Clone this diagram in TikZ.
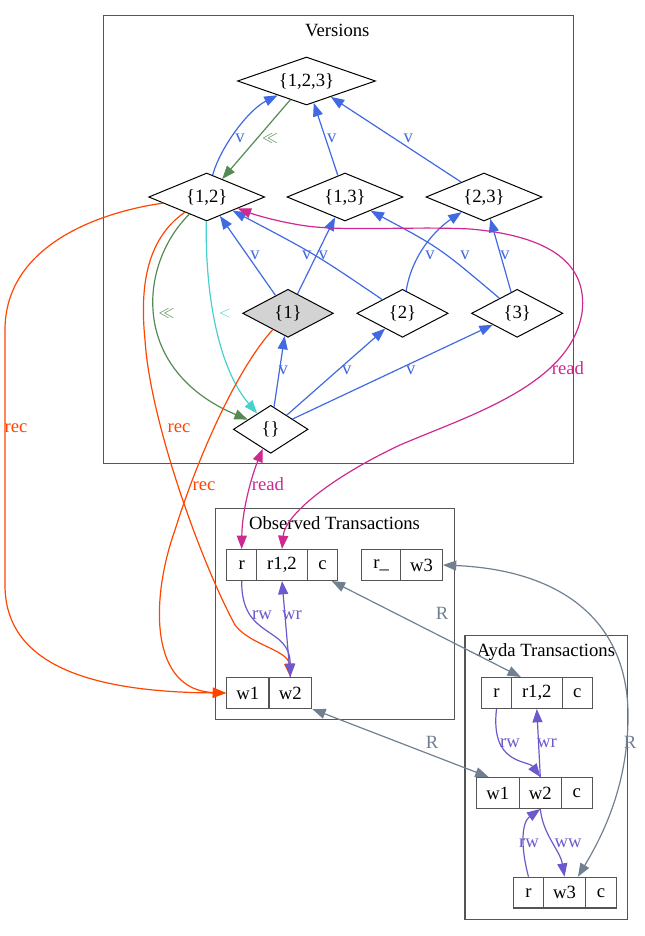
\documentclass[tikz,border=0pt]{standalone}
\usepackage{fontspec}
\setmainfont{Liberation Serif}
\usetikzlibrary{shapes.geometric,arrows.meta}
\definecolor{vblue}{HTML}{4169E1}
\definecolor{vgreen}{HTML}{548B54}
\definecolor{vturq}{HTML}{48D1CC}
\definecolor{vmag}{HTML}{CD2990}
\definecolor{vorange}{HTML}{FF4500}
\definecolor{vslate}{HTML}{6A5ACD}
\definecolor{vgray}{HTML}{708090}
\definecolor{boxgray}{HTML}{555555}
\definecolor{nodegray}{HTML}{D3D3D3}
\begin{document}
\begin{tikzpicture}[x=0.75pt,y=-0.75pt,font=\fontsize{14}{16}\selectfont,
  ver/.style={shape=diamond,draw=black,line width=0.75pt,inner sep=0pt,aspect=3,minimum height=36pt},
  fld/.style={draw=boxgray,line width=1pt,inner sep=0pt,minimum height=23pt},
  clus/.style={draw=boxgray,line width=1pt},
  ttl/.style={inner sep=0pt,anchor=base},
  edgeline/.style={line width=0.9pt},
  onehead/.style={-{Triangle[length=10pt,width=7.5pt]}},
  twoheads/.style={{Triangle[length=10pt,width=7.5pt]}-{Triangle[length=10pt,width=7.5pt]}},
  lbl/.style={inner sep=0pt},
  smallsym/.style={inner sep=0pt,font=\fontsize{12}{14}\selectfont}]
\useasboundingbox (0,0) rectangle (644,936);
% clusters
\draw[clus] (103.3,15.7) rectangle (573.3,463.3);
\draw[clus] (215.7,508.3) rectangle (454.7,719.3);
\draw[clus] (465,635.7) rectangle (627.7,919.3);
\node[ttl] (tV) at (337.3,36) {Versions};
\node[ttl] (tO) at (334.5,529) {Observed Transactions};
\node[ttl] (tA) at (546,656) {Ayda Transactions};
% version nodes
\node[ver,minimum width=103.5pt] (v123) at (306.5,81) {\{1,2,3\}};
\node[ver,minimum width=87pt] (v12) at (206.7,197) {\{1,2\}};
\node[ver,minimum width=87pt] (v13) at (345,197) {\{1,3\}};
\node[ver,minimum width=87pt] (v23) at (484,197) {\{2,3\}};
\node[ver,minimum width=68pt,fill=nodegray] (v1) at (288,313.3) {\{1\}};
\node[ver,minimum width=68.5pt] (v2) at (402.5,313.3) {\{2\}};
\node[ver,minimum width=68.5pt] (v3) at (517.2,313.3) {\{3\}};
\node[ver,minimum width=56pt] (v0) at (270.7,429.3) {\{\}};
% observed records
\node[fld,minimum width=22.5pt] (oR) at (241.7,565) {r};
\node[fld,minimum width=38pt] (oR12) at (282,565) {r1,2};
\node[fld,minimum width=22.8pt] (oC) at (322.5,565) {c};
\node[fld,minimum width=29.25pt] (oRu) at (381.2,565) {r\_};
\node[fld,minimum width=31.2pt] (oW3) at (421.5,565) {w3};
\node[fld,minimum width=31.7pt] (oW1) at (247.9,693) {w1};
\node[fld,minimum width=32pt] (oW2) at (290.3,693) {w2};
% ayda records
\node[fld,minimum width=22.2pt] (aR) at (496.5,693) {r};
\node[fld,minimum width=38.25pt] (aR12) at (536.8,693) {r1,2};
\node[fld,minimum width=22.5pt] (aC) at (577.3,693) {c};
\node[fld,minimum width=32.25pt] (aW1) at (497.8,793) {w1};
\node[fld,minimum width=31.5pt] (aW2) at (540.3,793) {w2};
\node[fld,minimum width=23.25pt] (aC2) at (576.8,793) {c};
\node[fld,minimum width=22.2pt] (aR3) at (528.5,892.7) {r};
\node[fld,minimum width=31.8pt] (aW3) at (564.5,892.7) {w3};
\node[fld,minimum width=23pt] (aC3) at (601,892.7) {c};
% blue v edges
\draw[edgeline,vblue,onehead] (v12) .. controls (220,148) and (248,110) .. (v123);
\draw[edgeline,vblue,onehead] (v13) -- (v123);
\draw[edgeline,vblue,onehead] (v23) -- (v123);
\draw[edgeline,vblue,onehead] (v1) -- (v12);
\draw[edgeline,vblue,onehead] (v2) .. controls (315,254) .. (v12);
\draw[edgeline,vblue,onehead] (v1) -- (v13);
\draw[edgeline,vblue,onehead] (v2) .. controls (412,255) and (435,230) .. (v23);
\draw[edgeline,vblue,onehead] (v3) .. controls (440,248) .. (v13);
\draw[edgeline,vblue,onehead] (v3) -- (v23);
\draw[edgeline,vblue,onehead] (v0) -- (v1);
\draw[edgeline,vblue,onehead] (v0) -- (v2);
\draw[edgeline,vblue,onehead] (v0) -- (v3);
% green / turquoise
\draw[edgeline,vgreen,onehead] (v123) -- (v12);
\draw[edgeline,vgreen,onehead] (v12) .. controls (138,265) and (130,370) .. (v0);
\draw[edgeline,vturq,onehead] (v12) .. controls (205,300) and (220,370) .. (v0);
% read edges
\draw[edgeline,vmag,twoheads] (oR12.north) .. controls (285,515) and (330,478) .. (400,445)
  .. controls (470,415) and (570,385) .. (582,313)
  .. controls (589,258) and (540,235) .. (470,229)
  .. controls (410,226) and (340,232) .. (300,225)
  .. controls (270,220) and (250,213) .. (v12);
\draw[edgeline,vmag,twoheads] (oR.north) .. controls (242,510) and (252,475) .. (v0);
% rec edges
\draw[edgeline,vorange,onehead] (v12) .. controls (100,212) and (5,245) .. (5,330) -- (5,585)
  .. controls (5,660) and (80,692) .. (oW1.west);
\draw[edgeline,vorange,onehead] (v12) .. controls (145,240) and (140,290) .. (145,340)
  .. controls (150,420) and (200,560) .. (235,625)
  .. controls (250,645) and (288,650) .. (oW2.north);
\draw[edgeline,vorange,onehead] (v1) .. controls (240,365) and (200,450) .. (175,530)
  .. controls (150,600) and (150,690) .. (oW1.west);
% observed internal
\draw[edgeline,vslate,onehead] (oR.south) .. controls (241,640) and (290,625) .. (oW2.north);
\draw[edgeline,vslate,onehead] (oW2.north) -- (oR12.south);
% R edges
\draw[edgeline,vgray,twoheads] (oC.-60) -- (aR12.135);
\draw[edgeline,vgray,twoheads] (oW2.south east) -- (aW1.120);
\draw[edgeline,vgray,twoheads] (oW3.east) .. controls (560,570) and (630,620) .. (628,720)
  .. controls (627,790) and (600,840) .. (aW3.50);
% ayda internal
\draw[edgeline,vslate,onehead] (aR.south) .. controls (490,765) and (528,760) .. (aW2.north);
\draw[edgeline,vslate,onehead] (aW2.north) -- (aR12.south);
\draw[edgeline,vslate,onehead] (aR3.north) .. controls (520,845) and (522,822) .. (aW2.south);
\draw[edgeline,vslate,onehead] (aW2.south) .. controls (543,835) and (560,850) .. (aW3.north);
% labels
\node[lbl,text=vblue] (l1) at (240,138) {v};
\node[lbl,text=vblue] (l2) at (331.7,138) {v};
\node[lbl,text=vblue] (l3) at (408.3,138) {v};
\node[lbl,text=vblue] (l4) at (255,255) {v};
\node[lbl,text=vblue] (l5) at (306.7,255) {v};
\node[lbl,text=vblue] (l6) at (323.3,255) {v};
\node[lbl,text=vblue] (l7) at (430,255) {v};
\node[lbl,text=vblue] (l8) at (465,255) {v};
\node[lbl,text=vblue] (l9) at (505,255) {v};
\node[lbl,text=vblue] (l10) at (283.3,370) {v};
\node[lbl,text=vblue] (l11) at (346.7,370) {v};
\node[lbl,text=vblue] (l12) at (410.7,370) {v};
\node[smallsym,text=vgreen] (l13) at (270,138) {$\ll$};
\node[smallsym,text=vgreen] (l14) at (166.7,313) {$\ll$};
\node[smallsym,text=vturq] (l15) at (225,313) {$<$};
\node[lbl,text=vmag] (l16) at (568,368) {read};
\node[lbl,text=vmag] (l17) at (268,484) {read};
\node[lbl,text=vorange] (l18) at (16,428) {rec};
\node[lbl,text=vorange] (l19) at (179,428) {rec};
\node[lbl,text=vorange] (l20) at (204,486) {rec};
\node[lbl,text=vslate] (l21) at (262,615) {rw};
\node[lbl,text=vslate] (l22) at (292,615) {wr};
\node[lbl,text=vgray] (l23) at (442,613) {R};
\node[lbl,text=vgray] (l24) at (432,742) {R};
\node[lbl,text=vgray] (l25) at (630,742) {R};
\node[lbl,text=vslate] (l26) at (510,743) {rw};
\node[lbl,text=vslate] (l27) at (547,743) {wr};
\node[lbl,text=vslate] (l28) at (529,843) {rw};
\node[lbl,text=vslate] (l29) at (568,843) {ww};
\end{tikzpicture}
\end{document}
